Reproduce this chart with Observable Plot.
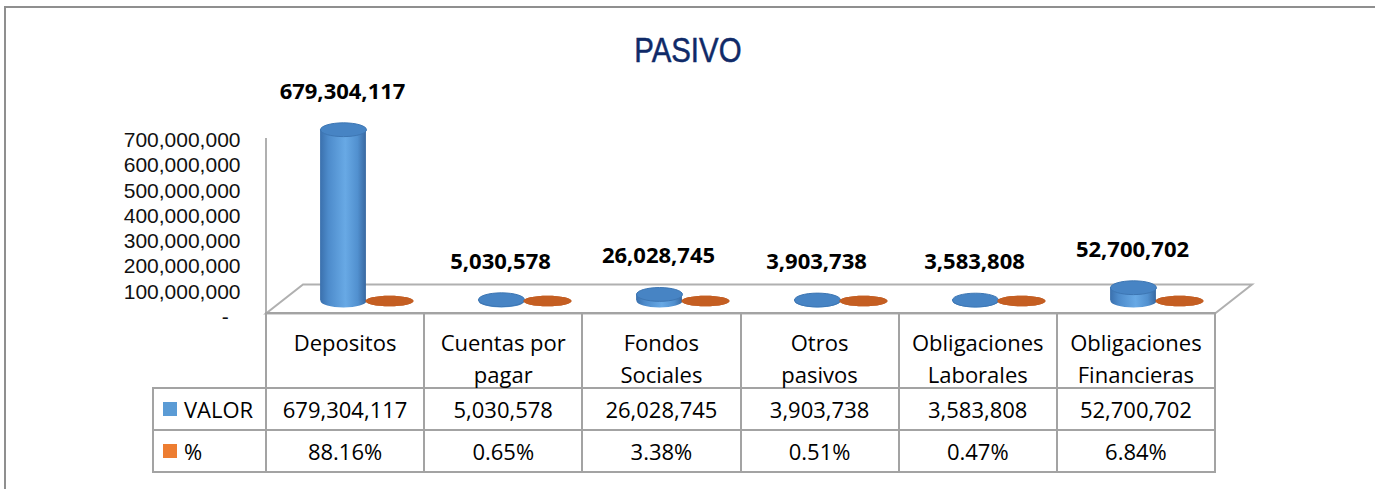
<!DOCTYPE html>
<html>
<head>
<meta charset="utf-8">
<script src="https://cdn.jsdelivr.net/npm/d3@7"></script>
<script src="https://cdn.jsdelivr.net/npm/@observablehq/plot@0.6"></script>
<style>
html, body { margin: 0; padding: 0; background: #fff; }
#wrap { position: relative; width: 1375px; height: 489px; overflow: hidden; background: #fff; }
#frameTop { position: absolute; left: 4px; top: 6px; right: 0; height: 0; border-top: 2px solid #8f8f8f; }
#frameLeft { position: absolute; left: 4px; top: 6px; bottom: 0; width: 0; border-left: 2px solid #8f8f8f; }
#title { position: absolute; left: 0; top: 32px; width: 1375px; text-align: center; font-family: "Liberation Sans", Arial, sans-serif; font-size: 35px; line-height: 35px; color: #0f2a68; -webkit-text-stroke: 0.5px #0f2a68; }
#title span { display: inline-block; transform: scaleX(0.84); }
#chart { position: absolute; left: 0; top: 0; }
.hline, .vline { position: absolute; background: #a3a3a3; }
.cell { position: absolute; display: flex; flex-direction: column; align-items: center; justify-content: center; font-family: "Open Sans", sans-serif; font-size: 22px; color: #000; white-space: nowrap; }
.head { justify-content: flex-start; padding-top: 13px; box-sizing: border-box; line-height: 32px; }
.leg { position: absolute; display: flex; align-items: center; font-family: "Open Sans", sans-serif; font-size: 22px; color: #000; }
.sw { width: 14px; height: 14px; margin-right: 7px; }
</style>
</head>
<body>
<div id="wrap">
  <div id="frameTop"></div>
  <div id="frameLeft"></div>
  <div id="chart"></div>
  <div id="title"><span>PASIVO</span></div>
  <div id="table"></div>
</div>
<script>
// ---- data ----
const categories = ["Depositos", "Cuentas por pagar", "Fondos Sociales", "Otros pasivos", "Obligaciones Laborales", "Obligaciones Financieras"];
const valor = [679304117, 5030578, 26028745, 3903738, 3583808, 52700702];
const porcentaje = [88.16, 0.65, 3.38, 0.51, 0.47, 6.84];
const yTicks = [0, 100000000, 200000000, 300000000, 400000000, 500000000, 600000000, 700000000];
const seriesNames = ["VALOR", "%"];
const seriesColors = ["#5b9bd5", "#ed7d31"];

const rows = categories.map((c, i) => ({cat: c, valor: valor[i], pct: porcentaje[i]}));
const fmt = d3.format(",");

// ---- layout constants ----
const W = 1375, H = 489;
const mL = 266, mR = 160, mT = 140, y0px = 316.5;
const colW = (W - mL - mR) / categories.length;
const base = -16;          // cylinder base offset (3D depth)
const cylW = 46;
const blueDx = -3, orangeDx = 43;

function ellipseSymbol(ratio) {
  return {
    draw(ctx, size) {
      const rx = Math.sqrt(size / Math.PI), ry = rx * ratio, k = 0.5523;
      ctx.moveTo(-rx, 0);
      ctx.bezierCurveTo(-rx, -ry * k, -rx * k, -ry, 0, -ry);
      ctx.bezierCurveTo(rx * k, -ry, rx, -ry * k, rx, 0);
      ctx.bezierCurveTo(rx, ry * k, rx * k, ry, 0, ry);
      ctx.bezierCurveTo(-rx * k, ry, -rx, ry * k, -rx, 0);
      ctx.closePath();
    }
  };
}

function defs() {
  const d = d3.create("svg:defs");
  const g = d.append("linearGradient").attr("id", "cylBlue").attr("x1", 0).attr("x2", 1).attr("y1", 0).attr("y2", 0);
  [[0, "#3a70ad"], [0.18, "#4d8bcb"], [0.55, "#68a9e5"], [0.82, "#5190cf"], [1, "#3868a0"]]
    .forEach(([o, c]) => g.append("stop").attr("offset", o).attr("stop-color", c));
  const o = d.append("linearGradient").attr("id", "cylOrange").attr("x1", 0).attr("x2", 1).attr("y1", 0).attr("y2", 0);
  [[0, "#b7541a"], [0.5, "#cc6428"], [1, "#b5521a"]]
    .forEach(([p, c]) => o.append("stop").attr("offset", p).attr("stop-color", c));
  return d.node();
}

function floorAndWall(index, scales, values, dimensions) {
  const {width, marginLeft, marginRight} = dimensions;
  const x0 = marginLeft, x1 = width - marginRight;
  const yf = scales.y(0) - 3;
  const g = d3.create("svg:g");
  g.append("path")
    .attr("d", `M${x0},${yf}L${x1},${yf}L${x1 + 37},${yf - 29}L${x0 + 37},${yf - 29}Z`)
    .attr("fill", "#fff").attr("stroke", "#b0b0b0").attr("stroke-width", 2);
  g.append("line")
    .attr("x1", x0).attr("x2", x0)
    .attr("y1", scales.y(0)).attr("y2", scales.y(yTicks[yTicks.length - 1]) - 2)
    .attr("stroke", "#b0b0b0").attr("stroke-width", 2);
  return g.node();
}

const inset = (colW - cylW) / 2;

const chart = Plot.plot({
  width: W, height: H,
  marginLeft: mL, marginRight: mR, marginTop: mT, marginBottom: H - y0px,
  style: {background: "transparent", color: "#000", fontFamily: "Liberation Sans, Arial, sans-serif", fontSize: "21px", overflow: "visible"},
  x: {type: "band", domain: categories, padding: 0, axis: null},
  y: {domain: [0, 700000000], label: null},
  marks: [
    defs,
    floorAndWall,
    Plot.axisY({ticks: yTicks, tickSize: 0, tickPadding: 26, label: null,
      tickFormat: d => d === 0 ? "-\u00a0\u00a0" : fmt(d), fontSize: 21, fill: "#111"}),
    // blue series (VALOR)
    Plot.dot(rows, {x: "cat", y: 0, dx: blueDx, dy: base, r: cylW / 2, symbol: ellipseSymbol(0.28), fill: "url(#cylBlue)"}),
    Plot.barY(rows, {x: "cat", y: "valor", dx: blueDx, dy: base, insetLeft: inset, insetRight: inset, fill: "url(#cylBlue)"}),
    Plot.dot(rows, {x: "cat", y: "valor", dx: blueDx, dy: base, r: cylW / 2, symbol: ellipseSymbol(0.3), fill: "#4784c4", stroke: "#3d76b3", strokeWidth: 1}),
    // orange series (%)
    Plot.dot(rows, {x: "cat", y: 0, dx: orangeDx, dy: base, r: cylW / 2 + 1, symbol: ellipseSymbol(0.22), fill: "url(#cylOrange)"}),
    Plot.barY(rows, {x: "cat", y: "pct", dx: orangeDx, dy: base, insetLeft: inset - 1, insetRight: inset - 1, fill: "url(#cylOrange)"}),
    Plot.dot(rows, {x: "cat", y: "pct", dx: orangeDx, dy: base, r: cylW / 2 + 1, symbol: ellipseSymbol(0.22), fill: "#c45e22"}),
    // data labels
    Plot.text(rows, {x: "cat", y: "valor", text: d => fmt(d.valor), dx: blueDx - 1, dy: base - 38,
      fontWeight: "bold", fontSize: 22, fontFamily: "Open Sans, sans-serif", fill: "#000"})
  ]
});
document.getElementById("chart").appendChild(chart);

// ---- data table (below the plot area) ----
const tbl = document.getElementById("table");
const tTop = 313, r1 = 388, r2 = 430, r3 = 472, legL = 153;
function line(cls, l, t, w, h) {
  const d = document.createElement("div");
  d.className = cls;
  Object.assign(d.style, {left: l + "px", top: t + "px", width: w + "px", height: h + "px"});
  tbl.appendChild(d);
}
line("hline", mL - 1, tTop - 1, W - mR - mL + 2, 2);
[r1, r2, r3].forEach(y => line("hline", legL - 1, y - 1, W - mR - legL + 2, 2));
line("vline", legL - 1, r1 - 1, 2, r3 - r1 + 2);
for (let i = 0; i <= categories.length; i++) line("vline", mL + i * colW - 1, tTop - 1, 2, r3 - tTop + 2);

function cell(cls, l, t, w, h, lines) {
  const d = document.createElement("div");
  d.className = cls;
  Object.assign(d.style, {left: l + "px", top: t + "px", width: w + "px", height: h + "px"});
  lines.forEach(s => { const sp = document.createElement("div"); sp.textContent = s; d.appendChild(sp); });
  tbl.appendChild(d);
}
categories.forEach((c, i) => {
  const k = c.lastIndexOf(" ");
  const lines = k < 0 ? [c] : [c.slice(0, k), c.slice(k + 1)];
  const l = mL + i * colW;
  cell("cell head", l, tTop, colW, r1 - tTop, lines);
  cell("cell", l, r1, colW, r2 - r1, [fmt(valor[i])]);
  cell("cell", l, r2, colW, r3 - r2, [porcentaje[i].toFixed(2) + "%"]);
});
[[r1, r2], [r2, r3]].forEach(([a, b], s) => {
  const d = document.createElement("div");
  d.className = "leg";
  Object.assign(d.style, {left: (legL + 10) + "px", top: a + "px", height: (b - a) + "px"});
  const sw = document.createElement("div");
  sw.className = "sw"; sw.style.background = seriesColors[s];
  const tx = document.createElement("span"); tx.textContent = seriesNames[s];
  d.appendChild(sw); d.appendChild(tx);
  tbl.appendChild(d);
});
</script>
</body>
</html>
